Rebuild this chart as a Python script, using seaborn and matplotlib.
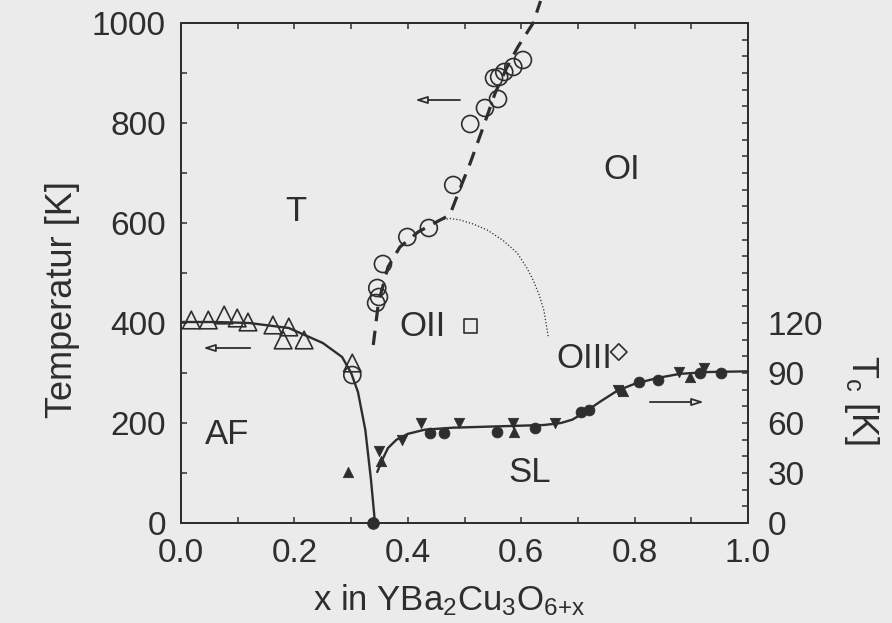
import numpy as np
import pandas as pd
import seaborn as sns
import matplotlib.pyplot as plt
from matplotlib.ticker import MultipleLocator, FormatStrFormatter

# 数据
# 高温 T-O 转变, 空心圆 (x, T[K])
circ_x = [0.603, 0.586, 0.570, 0.561, 0.552, 0.559, 0.536, 0.510, 0.480, 0.437,
          0.399, 0.356, 0.346, 0.349, 0.344, 0.302]
circ_T = [926, 912, 902, 892, 890, 848, 830, 798, 676, 590,
          572, 518, 470, 452, 440, 296]

# Neel 温度, 空心三角
tri_x = [0.018, 0.048, 0.076, 0.099, 0.118, 0.162, 0.190, 0.180, 0.217, 0.302]
tri_T = [406, 406, 416, 410, 402, 396, 392, 366, 366, 320]

# AF 边界 (实线)
af_x = [0.0, 0.06, 0.12, 0.19, 0.25, 0.284, 0.300, 0.312, 0.325, 0.335, 0.342]
af_T = [402, 402, 400, 390, 360, 332, 300, 262, 186, 86, 0]

# T-O 边界 (虚线)
dash_x = [0.339, 0.348, 0.365, 0.386, 0.418, 0.457, 0.474, 0.489, 0.510, 0.533,
          0.554, 0.575, 0.594, 0.621, 0.634]
dash_T = [356, 440, 512, 552, 582, 606, 616, 660, 720, 792,
          860, 912, 952, 1000, 1044]

# OI-OII 边界 (点线)
dot_x = [0.457, 0.475, 0.492, 0.515, 0.540, 0.568, 0.593, 0.610, 0.621, 0.632, 0.640, 0.648]
dot_T = [606, 609, 606, 598, 586, 565, 540, 510, 486, 455, 425, 370]

# Tc (右轴, K)
tc_x = [0.346, 0.355, 0.365, 0.380, 0.400, 0.430, 0.480, 0.560, 0.640, 0.670,
        0.690, 0.710, 0.740, 0.770, 0.800, 0.840, 0.880, 0.930, 1.000]
tc_K = [30.6, 38, 45, 50, 53.5, 56, 57.2, 58, 58.8, 60,
        62, 66, 73, 79.5, 83.5, 87, 89.5, 90.6, 91]

sc_circ_x = [0.439, 0.464, 0.557, 0.624, 0.705, 0.720, 0.807, 0.841, 0.915, 0.952]
sc_circ_K = [54, 54, 54.6, 57, 66.6, 67.8, 84.6, 85.8, 90, 90]
sc_down_x = [0.349, 0.390, 0.423, 0.490, 0.585, 0.660, 0.770, 0.878, 0.922]
sc_down_K = [43, 50, 60, 60, 60, 60, 80, 90.6, 93]
sc_up_x = [0.294, 0.352, 0.588, 0.780, 0.897]
sc_up_K = [30.6, 37, 54.6, 79, 87.6]

# 相区标注
phase_names = ['T', 'OI', 'OII', 'OIII', 'AF', 'SL']
phase_x = [0.203, 0.778, 0.426, 0.712, 0.081, 0.615]
phase_T = [622, 706, 394, 330, 178, 102]

ink = '#2e2e2e'
paper = '#ebebeb'

sns.set_style('ticks')
plt.rcParams['font.family'] = ['Liberation Sans', 'DejaVu Sans']
plt.rcParams['mathtext.default'] = 'regular'
plt.rcParams['text.color'] = ink
plt.rcParams['axes.edgecolor'] = ink
plt.rcParams['xtick.color'] = ink
plt.rcParams['ytick.color'] = ink

fig = plt.figure(figsize=(8.92, 6.23), dpi=100, facecolor=paper)
ax = fig.add_axes([0.203, 0.1605, 0.6356, 0.8026], facecolor=paper)
ax2 = ax.twinx()

# 线
sns.lineplot(x=dash_x, y=dash_T, ax=ax, color=ink, lw=2.3, sort=False,
             estimator=None, linestyle=(0, (4.5, 3)), clip_on=False)
sns.lineplot(x=dot_x, y=dot_T, ax=ax, color=ink, lw=0.9, sort=False,
             estimator=None, linestyle=(0, (1, 1.6)))
sns.lineplot(x=af_x, y=af_T, ax=ax, color=ink, lw=1.7, sort=False, estimator=None)
sns.lineplot(x=tc_x, y=tc_K, ax=ax2, color=ink, lw=1.7, sort=False, estimator=None)

# 点
sns.scatterplot(x=circ_x, y=circ_T, ax=ax, marker='o', s=150,
                facecolor='none', edgecolor=ink, linewidth=1.2, zorder=5)
sns.scatterplot(x=tri_x, y=tri_T, ax=ax, marker='^', s=160,
                facecolor='none', edgecolor=ink, linewidth=1.2, zorder=5)
sns.scatterplot(x=[0.339], y=[0], ax=ax, marker='o', s=70, color=ink,
                edgecolor=ink, zorder=6, clip_on=False)
sns.scatterplot(x=sc_circ_x, y=sc_circ_K, ax=ax2, marker='o', s=60, color=ink,
                edgecolor=ink, zorder=5)
sns.scatterplot(x=sc_down_x, y=sc_down_K, ax=ax2, marker='v', s=55, color=ink,
                edgecolor=ink, zorder=5)
sns.scatterplot(x=sc_up_x, y=sc_up_K, ax=ax2, marker='^', s=55, color=ink,
                edgecolor=ink, zorder=5)

# 相区文字
for name, px, py in zip(phase_names, phase_x, phase_T):
    ax.text(px, py, name, fontsize=25, ha='center', va='center')
ax.scatter([0.510], [394], marker='s', s=90, facecolor='none', edgecolor=ink, linewidth=1.2)
ax.scatter([0.772], [342], marker='D', s=70, facecolor='none', edgecolor=ink, linewidth=1.2)

# 箭头
arrow_kw = dict(arrowstyle='-|>,head_length=0.7,head_width=0.22', fc=paper, ec=ink, lw=1.3,
                shrinkA=0, shrinkB=0)
ax.annotate('', xy=(0.413, 846), xytext=(0.492, 846), arrowprops=arrow_kw)
ax.annotate('', xy=(0.039, 350), xytext=(0.122, 350), arrowprops=arrow_kw)
ax.annotate('', xy=(0.922, 242), xytext=(0.827, 242), arrowprops=arrow_kw)

# 坐标轴
ax.set_xlim(0, 1.0)
ax.set_ylim(0, 1000)
ax2.set_ylim(0, 300)
ax.xaxis.set_major_locator(MultipleLocator(0.2))
ax.xaxis.set_minor_locator(MultipleLocator(0.1))
ax.xaxis.set_major_formatter(FormatStrFormatter('%.1f'))
ax.yaxis.set_major_locator(MultipleLocator(200))
ax.yaxis.set_minor_locator(MultipleLocator(100))
ax2.set_yticks([0, 30, 60, 90, 120])
ax2.yaxis.set_minor_locator(MultipleLocator(10))

ax.tick_params(which='both', direction='in', top=True, right=False, length=4, width=1.1,
               labelsize=24, pad=11)
ax2.tick_params(which='both', direction='in', length=4, width=1.1, labelsize=24, pad=14)
for sp in list(ax.spines.values()) + list(ax2.spines.values()):
    sp.set_linewidth(1.4)
    sp.set_color(ink)
ax.set_xlabel('')
ax.set_ylabel('')

fig.text(62 / 892, 1 - 300 / 623, 'Temperatur [K]', rotation=90, fontsize=26,
         ha='center', va='center')
fig.text(862 / 892, 1 - 400 / 623, 'T$_c$ [K]', rotation=-90, fontsize=26,
         ha='center', va='center')
fig.text(449 / 892, 1 - 600 / 623, 'x in YBa$_2$Cu$_3$O$_{6{+}x}$', fontsize=25,
         ha='center', va='center')

fig.savefig('out.png', dpi=100, facecolor=paper)
